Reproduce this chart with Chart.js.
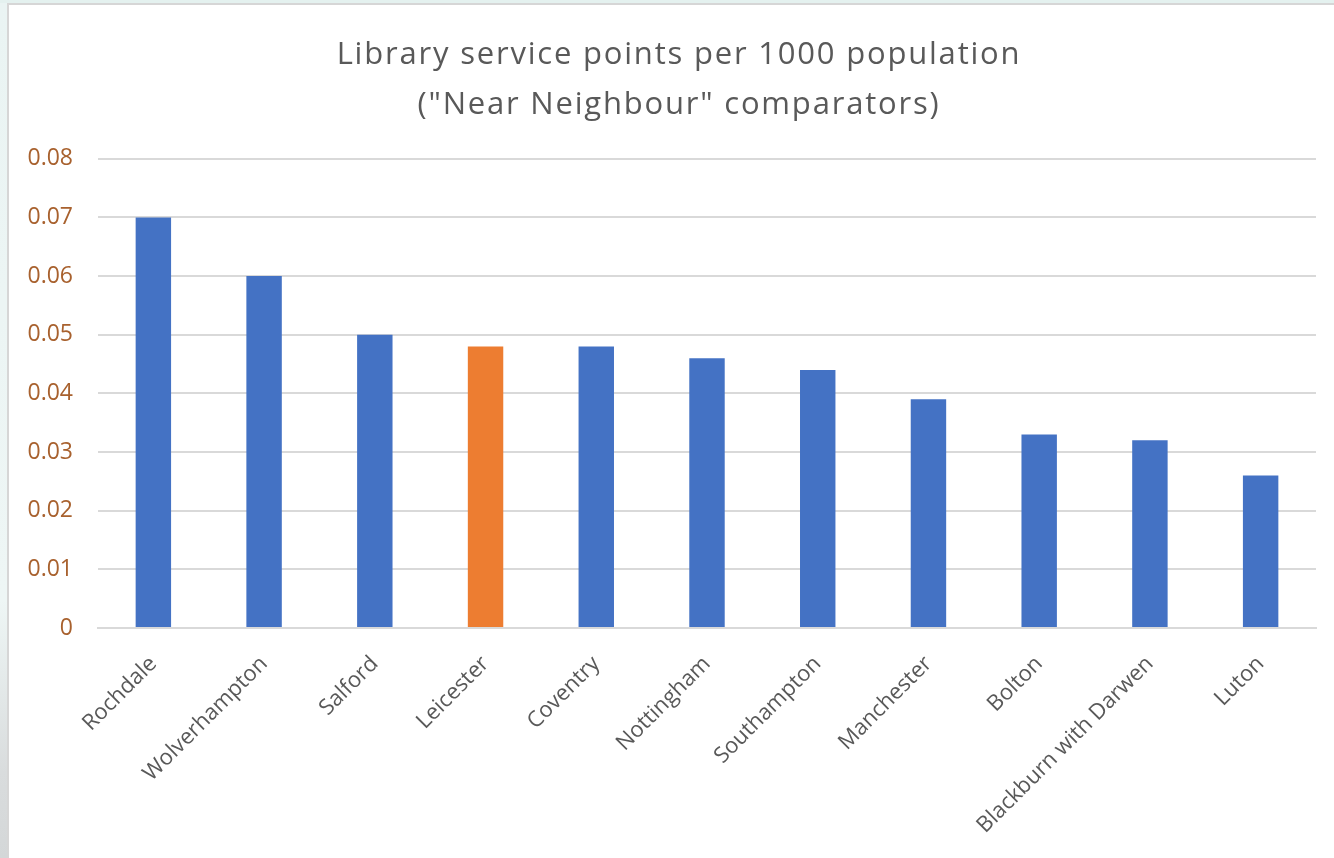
<!DOCTYPE html>
<html>
<head>
<meta charset="utf-8">
<script src="https://cdn.jsdelivr.net/npm/chart.js@4/dist/chart.umd.min.js"></script>
<style>
  html, body { margin: 0; padding: 0; width: 1334px; height: 858px; overflow: hidden; }
  body { background: linear-gradient(180deg, #eaf4f3 0%, #eef6f5 70%, #d9dcdd 90%, #d4d7d8 100%); position: relative; }
  .topstrip { position: absolute; left: 0; top: 0; width: 1334px; height: 3px; background: #e4f1ef; }
  .frame { position: absolute; left: 7px; top: 3px; width: 1327px; height: 855px;
           border-left: 2px solid #d6d6d6; border-top: 2px solid #d6d6d6; background: #ffffff; box-sizing: border-box; }
  canvas { display: block; }
</style>
</head>
<body>
<div class="topstrip"></div>
<div class="frame"><canvas id="chart" width="1325" height="853"></canvas></div>
<script>
// Library service points per 1000 population, "Near Neighbour" comparator authorities
const authorities = ['Rochdale', 'Wolverhampton', 'Salford', 'Leicester', 'Coventry', 'Nottingham',
                     'Southampton', 'Manchester', 'Bolton', 'Blackburn with Darwen', 'Luton'];
const servicePoints = [0.070, 0.060, 0.050, 0.048, 0.048, 0.046, 0.044, 0.039, 0.033, 0.032, 0.026];
const highlighted = 'Leicester';
const yTicks = [0, 0.01, 0.02, 0.03, 0.04, 0.05, 0.06, 0.07, 0.08];
const titleLines = ['Library service points per 1000 population', '("Near Neighbour" comparators)'];

const BLUE = '#4472C4';
const ORANGE = '#ED7D31';
const GRID = '#d9d9d9';
const FONT = '"Open Sans", Lato, sans-serif';

// The title is drawn (z 0) before the bars; open up its letter spacing a little,
// then restore normal spacing before the bars and the tick labels (z 1) are drawn.
const titleSpacing = {
  id: 'titleSpacing',
  beforeDraw(chart) { chart.ctx.letterSpacing = '1.8px'; },
  beforeDatasetsDraw(chart) { chart.ctx.letterSpacing = '0px'; }
};

new Chart(document.getElementById('chart'), {
  type: 'bar',
  data: {
    labels: authorities,
    datasets: [{
      data: servicePoints,
      backgroundColor: authorities.map(a => a === highlighted ? ORANGE : BLUE),
      borderWidth: 0,
      barPercentage: 1,
      categoryPercentage: 0.32
    }]
  },
  plugins: [titleSpacing],
  options: {
    responsive: false,
    animation: false,
    layout: { padding: { left: 15, right: 0, top: 0, bottom: 0 } },
    plugins: {
      legend: { display: false },
      tooltip: { enabled: false },
      title: {
        display: true,
        text: titleLines,
        color: '#595959',
        font: { family: FONT, size: 31, weight: 'normal', lineHeight: 1.61 },
        padding: { top: 25, bottom: 29 }
      }
    },
    scales: {
      x: {
        grid: { display: false },
        border: { display: true, color: GRID, width: 2 },
        ticks: {
          z: 1,
          color: '#595959',
          font: { family: FONT, size: 22 },
          minRotation: 45,
          maxRotation: 45,
          padding: 15,
          autoSkip: false
        },
        afterFit: scale => { scale.height = 230; }
      },
      y: {
        min: 0,
        max: 0.08,
        afterBuildTicks: scale => { scale.ticks = yTicks.map(v => ({ value: v })); },
        grid: { color: GRID, lineWidth: 2, drawTicks: false },
        border: { display: false },
        ticks: {
          z: 1,
          color: '#A8612E',
          font: { family: FONT, size: 23 },
          padding: 25,
          callback: v => v === 0 ? '0' : v.toFixed(2)
        },
        afterFit: scale => { scale.width = 74; }
      },
      // empty margin on the right of the plot
      yRight: {
        type: 'linear',
        position: 'right',
        grid: { display: false },
        border: { display: false },
        ticks: { display: false },
        afterFit: scale => { scale.width = 18; }
      }
    }
  }
});
</script>
</body>
</html>
